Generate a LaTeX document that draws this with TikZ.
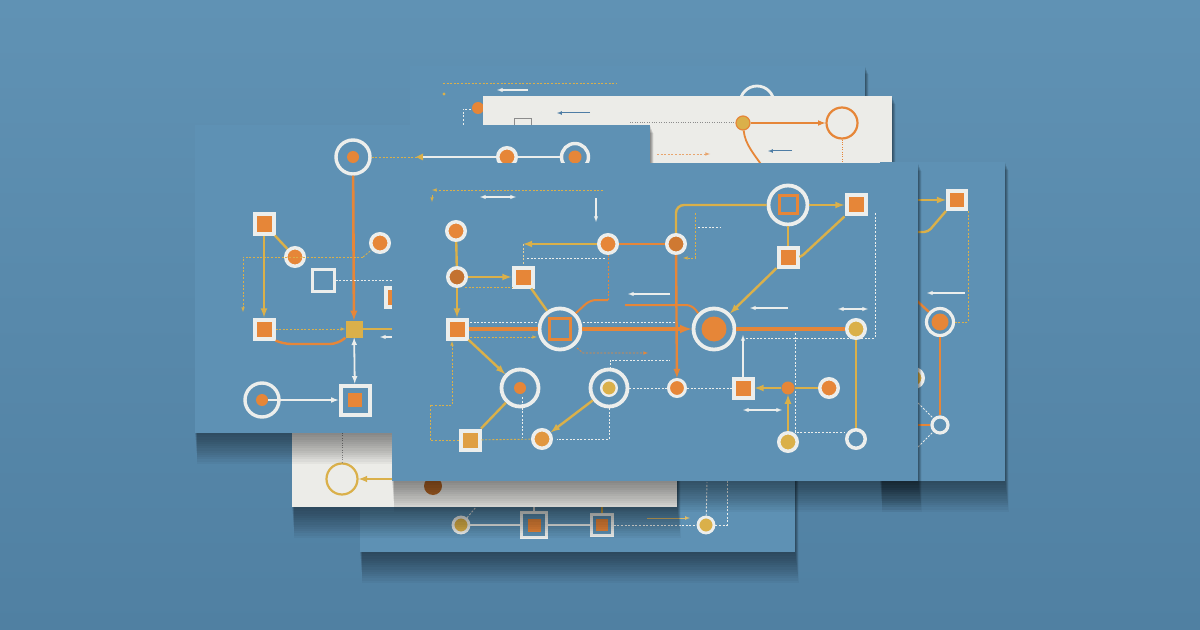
\documentclass[tikz,border=0pt]{standalone}
\usepackage{tikz}
\usetikzlibrary{arrows,calc}
\definecolor{cBgA}{RGB}{96,146,180}
\definecolor{cBgB}{RGB}{80,128,162}
\definecolor{cCard}{RGB}{94,145,180}
\definecolor{cPaper}{RGB}{236,236,232}
\definecolor{cOr}{RGB}{230,134,56}
\definecolor{cYl}{RGB}{218,176,74}
\definecolor{cWh}{RGB}{236,238,236}
\definecolor{cGray}{RGB}{140,140,140}
\definecolor{cSteel}{RGB}{78,125,165}
\newcommand\cardshade[2]{%
  \foreach \d in {1,...,14}{%
    \fill[black,opacity=.035] ($#1+(.15*\d,.6*\d)$) rectangle ($#2+(.25*\d,2.2*\d)$);}}

\begin{document}
\begin{tikzpicture}[x=0.5mm,y=-0.5mm,
    orw/.style={draw=cOr,line width=1.6mm},
    ylw/.style={draw=cYl,line width=1.2mm},
    whw/.style={draw=cWh,line width=.9mm},
    dsh/.style={line width=.45mm,dash pattern=on 1mm off .8mm},
    cpt/.style={circle,fill=cOr,draw=cWh,line width=1.75mm,minimum size=9.25mm,inner sep=0pt},
    ypt/.style={cpt,fill=cYl},
    sq/.style={rectangle,fill=cOr,draw=cWh,line width=2mm,minimum size=9.5mm,inner sep=0pt},
    ring/.style={circle,draw=cWh,line width=1.9mm,minimum size=20.5mm,inner sep=0pt},
    core/.style={circle,fill=cOr,minimum size=#1,inner sep=0pt},
    core/.default=6mm,
    sqframe/.style={rectangle,draw=cWh,fill=cCard,line width=2mm,minimum size=#1,inner sep=0pt},
    osq/.style={rectangle,draw=cOr,line width=1.5mm,minimum size=#1,inner sep=0pt}]
  \useasboundingbox (0,0) rectangle (1200,630);
  \shade[top color=cBgA,bottom color=cBgB] (0,0) rectangle (1200,630);

  \cardshade{(360,430)}{(795,552)}
  \fill[cCard] (360,430) rectangle (795,552);
  \node[ypt,minimum size=8mm,line width=1.4mm] (ba) at (461,525) {};
  \node[sqframe=12.5mm,line width=1.2mm] (bb) at (534,525) {};
  \node[fill=cOr,minimum size=6.5mm,inner sep=0pt] at (534,525) {};
  \node[sqframe=10.5mm,line width=1.2mm] (bc) at (602,525) {};
  \node[fill=cOr,minimum size=6mm,inner sep=0pt] at (602,525) {};
  \node[ypt,minimum size=8mm,line width=1.4mm] (bd) at (706,525) {};
  \draw[whw,line width=.7mm] (ba) -- (bb) -- (bc);
  \draw[dsh,cWh] (bc) -- (bd);
  \draw[cYl!80!cWh,line width=.5mm,-latex] (647,518) -- (690,518);
  \draw[dsh,cWh] (bd) -- (727,525) -- (727,481);
  \draw[dsh,cWh] (bd) -- (707,482);
  \draw[dsh,cWh] (ba) -- (476,507);
  \draw[whw,line width=.6mm] (bb) -- (534,505);
  \draw[ylw,line width=.7mm] (bc) -- (602,505);

  \cardshade{(292,430)}{(677,507)}
  \fill[cPaper] (292,430) rectangle (677,507);
  \node[circle,draw=cYl,line width=1.1mm,minimum size=15.5mm] (ka) at (342,479) {};
  \draw[cGray,dotted,line width=.5mm] (342,433) -- (ka);
  \draw[cYl,line width=1.1mm,-latex] (400,479) -- (ka);
  \node[core=9mm,fill=cOr!80!black] at (433,486) {};

  \cardshade{(410,66)}{(865,170)}
  \fill[cCard] (410,66) rectangle (865,170);
  \draw[dsh,cYl] (443,83) -- (617,83);
  \fill[cYl] (444,94) circle (0.8mm);
  \draw[whw,line width=.6mm,-latex] (528,90) -- (497,90);
  \node[core] (bo) at (478,108) {};
  \draw[dsh,cWh] (471,109) -- (463,109) -- (463,125);
  \node[ring,minimum size=17mm,line width=1.4mm] (br) at (757,103) {};

  \cardshade{(483,96)}{(892,170)}
  \fill[cPaper] (483,96) rectangle (892,170);
  \node[draw=cGray,line width=.5mm,minimum size=8.5mm] (wg) at (523,127) {};
  \node[circle,fill=cYl,draw=cOr,line width=.6mm,minimum size=7mm] (wy) at (743,123) {};
  \node[circle,draw=cOr,line width=1.1mm,minimum size=15.5mm] (wo) at (842,123) {};
  \draw[cSteel,line width=.5mm,-latex] (590,113) -- (557,113);
  \draw[cGray,dotted,line width=.5mm] (630,123) -- (wy);
  \draw[cOr,line width=.9mm,-latex] (wy) -- (wo);
  \draw[cOr,dotted,line width=.5mm] (wo) -- (842,170);
  \draw[cOr,line width=.9mm] (wy) .. controls (745,145) and (755,155) .. (765,170);
  \draw[cSteel,line width=.5mm,-latex] (792,151) -- (768,151);
  \draw[cOr!70!cPaper,dsh,-latex] (657,154) -- (710,154);

  \cardshade{(880,162)}{(1005,481)}
  \fill[cCard] (880,162) rectangle (1005,481);
  \node[sq,minimum size=9mm] (ra) at (957,200) {};
  \node[ring,minimum size=13.5mm,line width=1.6mm] (rb) at (940,322) {};
  \node[core=8.5mm] (rbc) at (940,322) {};
  \node[cpt,fill=cCard,minimum size=8mm,line width=1.6mm] (rc) at (940,425) {};
  \node[ypt] (rd) at (914,378) {};
  \draw[ylw,-latex] (905,200) -- (ra);
  \draw[ylw,rounded corners=2mm] (905,232) -- (928,232) -- (ra.south west);
  \draw[dsh,cYl] (968,211) -- (968,322) -- (rb);
  \draw[whw,line width=.6mm,-latex] (965,293) -- (927,293);
  \draw[orw,line width=1.2mm] (905,290) -- (rb);
  \draw[orw,line width=1.3mm] (rb) -- (rc);
  \draw[orw,line width=1.3mm] (905,425) -- (rc);
  \draw[dsh,cWh] (918,403) -- (rc);
  \draw[dsh,cWh] (918,447) -- (rc);

  \cardshade{(195,125)}{(650,433)}
  \fill[cCard] (195,125) rectangle (650,433);
  \node[ring,minimum size=17mm,line width=1.7mm] (lr) at (353,157) {};
  \node[core] (lrc) at (353,157) {};
  \node[cpt] (lp) at (507,157) {};
  \node[ring,minimum size=13.5mm,line width=1.7mm] (lq) at (575,157) {};
  \node[core=6.5mm] (lqc) at (575,157) {};
  \node[sq] (la) at (264,224) {};
  \node[sq] (lb) at (264,329) {};
  \node[cpt] (lc) at (295,257) {};
  \node[draw=cWh,line width=1.5mm,minimum size=11mm] (ld) at (323,280) {};
  \node[cpt] (le) at (380,243) {};
  \node[sq] (lf) at (395,297) {};
  \node[fill=cYl,minimum size=8.5mm,inner sep=0pt] (ly) at (354,329) {};
  \node[ring,minimum size=17mm,line width=1.7mm] (ls) at (262,400) {};
  \node[core] (lsc) at (262,400) {};
  \node[sqframe=14.5mm] (lt) at (355,400) {};
  \node[fill=cOr,minimum size=7mm,inner sep=0pt] at (355,400) {};
  \draw[ylw,-latex] (la) -- (lb);
  \draw[ylw] (la) -- (lc);
  \draw[orw,line width=1.3mm,-latex] (lr) -- (ly);
  \draw[cOr,line width=1.2mm,rounded corners=4mm] (lb.south east) -- (283,344) -- (338,344) -- (ly.south west);
  \draw[dsh,cYl,-latex] (lb) -- (ly);
  \draw[ylw] (ly) -- (392,329);
  \draw[whw,latex-latex] (ly) -- (lt);
  \draw[whw,-latex] (lsc) -- (lt);
  \draw[dsh,cYl,-latex] (363,257) -- (243,257) -- (243,312);
  \draw[dsh,cYl] (363,257) -- (le);
  \draw[dsh,cWh] (ld) -- (392,280);
  \draw[dsh,cYl] (lr) -- (418,157);
  \fill[cYl] (416,157) -- (423,153.5) -- (423,160.5) -- cycle;
  \draw[whw,line width=.7mm] (423,157) -- (lp) -- (lq);
  \draw[whw,line width=.6mm,-latex] (392,337) -- (380,337);

  \cardshade{(392,163)}{(918,481)}
  \fill[cCard] (392,163) rectangle (918,481);
  \node[cpt] (A) at (456,231) {};
  \node[cpt,fill=cOr!85!black] (B) at (457,277) {};
  \node[sq] (C) at (457,329) {};
  \node[sq] (D) at (523,277) {};
  \node[ring] (E) at (560,329) {};
  \node[osq=10.5mm] (Ei) at (560,329) {};
  \node[cpt] (F) at (608,244) {};
  \node[cpt,fill=cOr!90!black] (G) at (676,244) {};
  \node[ring] (H) at (714,329) {};
  \node[core=12.5mm] (Hc) at (714,329) {};
  \node[ring,minimum size=19.5mm] (I) at (788,205) {};
  \node[osq=9mm] (Ii) at (788,205) {};
  \node[sq] (J) at (856,205) {};
  \node[sq] (K) at (788,257) {};
  \node[ypt] (L) at (856,329) {};
  \node[ring,minimum size=18.5mm] (M) at (520,388) {};
  \node[core] (Mc) at (520,388) {};
  \node[ring,minimum size=18.5mm] (N) at (609,388) {};
  \node[ypt,line width=1.2mm,minimum size=7.8mm] (Nc) at (609,388) {};
  \node[cpt,line width=1.5mm,minimum size=8.5mm] (O) at (677,388) {};
  \node[sq] (P) at (743,388) {};
  \node[core=6.5mm] (Q) at (788,388) {};
  \node[cpt] (R) at (829,388) {};
  \node[sq,fill=cYl!60!cOr] (S) at (470,440) {};
  \node[cpt,fill=cYl!40!cOr] (T) at (542,439) {};
  \node[ypt] (U) at (788,442) {};
  \node[cpt,fill=cCard] (V) at (856,439) {};

  \draw[dsh,cYl,-latex] (603,190) -- (432,190);
  \draw[cYl,line width=.45mm,-latex] (432,195) -- (432,202);
  \draw[whw,line width=.6mm,latex-latex] (480,197) -- (516,197);
  \draw[whw,line width=.6mm,-latex] (596,198) -- (596,222);
  \draw[dsh,cWh] (470,322) -- (537,322);
  \draw[dsh,cWh] (583,322) -- (677,322);
  \draw[dsh,cYl,-latex] (470,337) -- (537,337);
  \draw[dsh,cYl] (465,287) -- (513,287);
  \draw[dsh,cWh] (527,258) -- (605,258);
  \draw[dsh,cOr,-latex] (577,348) -- (583,353) -- (648,353);
  \draw[dsh,cWh] (610,369) -- (610,360) -- (670,360);
  \draw[dsh,cYl,-latex] (695,213) -- (695,258) -- (683,258);
  \draw[dsh,cWh] (698,227) -- (720,227);
  \draw[dsh,cWh] (875,213) -- (875,338) -- (743,338);
  \draw[dsh,cWh] (795,333) -- (795,432) -- (V.west |- 795,432);
  \draw[dsh,cWh] (N) -- (O) -- (P);
  \draw[dsh,cWh] (609,408) -- (609,439) -- (557,439);
  \draw[dsh,cWh] (522,397) -- (522,438);
  \draw[dsh,cYl,-latex] (S) -- (430,440) |- (452,405) -- (452,341);
  \draw[dsh,cYl] (S) -- (T);

  \draw[ylw] (A) -- (B);
  \draw[ylw,-latex] (B) -- (D);
  \draw[ylw,-latex] (B) -- (C);
  \draw[orw] (C) -- (E);
  \draw[orw,-latex] (E) -- (H);
  \draw[orw] (H) -- (L);
  \draw[ylw,-latex] (C) -- (M);
  \draw[ylw] (D) -- (E);
  \draw[cOr,line width=1mm,rounded corners=3mm] (E.45) -- (590,300) -- (608,300);
  \draw[dsh,cOr] (608,300) -- (F);
  \draw[cOr,line width=1.2mm] (F) -- (G);
  \draw[ylw,-latex] (F) -- (F -| D);
  \draw[dsh,cYl!50!cWh] (F -| D) -- (D);
  \draw[cOr,line width=1.2mm,-latex] (G) -- (O);
  \draw[ylw,rounded corners=4mm] (G) -- (G |- I) -- (I);
  \draw[ylw,-latex] (I) -- (J);
  \draw[ylw] (I) -- (K);
  \draw[ylw] (J.south west) -- (803,255) -- (K.east);
  \draw[ylw,-latex] (K) -- (H);
  \draw[ylw] (L) -- (V);
  \draw[ylw,-latex] (Q) -- (P);
  \draw[ylw] (Q) -- (R);
  \draw[ylw,-latex] (U) -- (Q);
  \draw[ylw] (M) -- (S);
  \draw[ylw,-latex] (N) -- (T);
  \draw[cOr,line width=1mm,rounded corners=3mm] (625,305) -- (692,305) -- (H.135);
  \draw[whw,line width=.6mm,-latex] (670,294) -- (628,294);
  \draw[whw,line width=.6mm,-latex] (788,308) -- (750,308);
  \draw[whw,line width=.6mm,latex-latex] (838,309) -- (868,309);
  \draw[whw,line width=.6mm,-latex] (P) -- (743,335);
  \draw[whw,line width=.6mm,latex-latex] (743,410) -- (782,410);
\end{tikzpicture}
\end{document}
